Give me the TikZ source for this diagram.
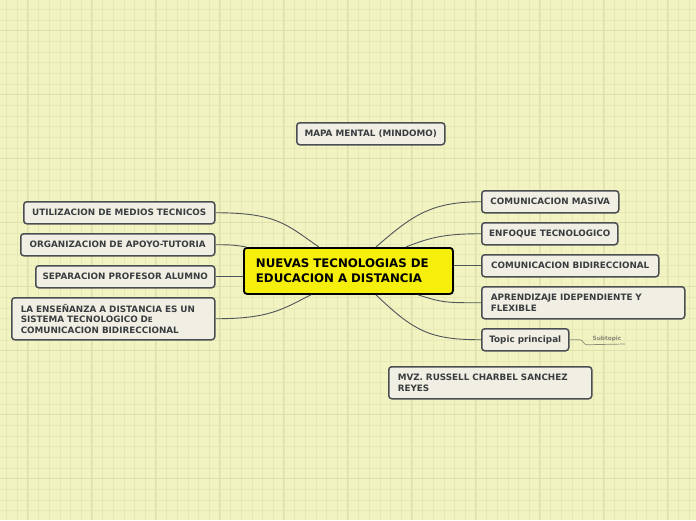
\documentclass[tikz,border=0pt]{standalone}
\usepackage{fontspec}
\setmainfont{DejaVu Sans}
\definecolor{bg}{HTML}{F1F3C1}
\definecolor{gminor}{HTML}{E6E9B5}
\definecolor{gmajor}{HTML}{DEE1AB}
\definecolor{boxfill}{HTML}{F1EFE3}
\definecolor{boxline}{HTML}{4A4E53}
\definecolor{txt}{HTML}{3A3D40}
\definecolor{conncol}{HTML}{50555A}
\definecolor{yel}{HTML}{F6EE0B}
\definecolor{subcol}{HTML}{8A8C78}
\begin{document}
\begin{tikzpicture}[x=1pt,y=-1pt,
  bx/.style={draw=boxline, line width=1.5pt, fill=boxfill, rounded corners=3pt,
    font=\fontsize{8.8}{10.4}\selectfont\bfseries, text=txt, minimum height=22pt,
    inner xsep=0pt, inner ysep=0pt, anchor=north west, align=center},
  bxl/.style={bx, align=left, inner xsep=9pt},
  central/.style={draw=black, line width=1.8pt, fill=yel, rounded corners=3pt,
    font=\fontsize{11.8}{15}\selectfont\bfseries, text=black, anchor=north west,
    minimum width=209pt, minimum height=46pt, text width=185pt, inner xsep=12pt, align=left},
  conn/.style={draw=conncol, line width=0.9pt},
  subl/.style={draw=subcol, line width=0.7pt},
  subt/.style={font=\fontsize{5.8}{6}\selectfont\bfseries, text=subcol, inner sep=0pt}]
% background
\fill[bg] (0,0) rectangle (696,520);
\useasboundingbox (0,0) rectangle (696,520);
\foreach \i in {0,...,65} {
  \draw[gminor, line width=0.8pt] ({6.7+10.667*\i},0) -- ({6.7+10.667*\i},520);
}
\foreach \i in {0,...,48} {
  \draw[gminor, line width=0.8pt] (0,{9.3+10.667*\i}) -- (696,{9.3+10.667*\i});
}
\foreach \i in {0,...,11} {
  \draw[gmajor, line width=0.9pt] ({27.7+64*\i},0) -- ({27.7+64*\i},520);
}
\foreach \i in {0,...,8} {
  \draw[gmajor, line width=0.9pt] (0,{30.7+64*\i}) -- (696,{30.7+64*\i});
}
% nodes
\node[central] (c) at (243,247) {NUEVAS TECNOLOGIAS DE\\EDUCACION A DISTANCIA};
\node[bx, minimum width=148pt] (mm) at (296,122) {MAPA MENTAL (MINDOMO)};
\node[bx, minimum width=191pt] (u) at (23,201) {UTILIZACION DE MEDIOS TECNICOS};
\node[bx, minimum width=194pt] (o) at (20,233) {ORGANIZACION DE APOYO-TUTORIA};
\node[bx, minimum width=179pt] (s) at (35,265) {SEPARACION PROFESOR ALUMNO};
\node[bxl, minimum width=203pt, minimum height=42pt, text width=185pt] (l) at (11,297)
  {LA ENSEÑANZA A DISTANCIA ES UN\\SISTEMA TECNOLOGICO D{\fontsize{7.2}{8}\selectfont E}\\COMUNICACION BIDIRECCIONAL};
\node[bx, minimum width=137pt] (m) at (481,190) {COMUNICACION MASIVA};
\node[bx, minimum width=136pt] (e) at (481,222) {ENFOQUE TECNOLOGICO};
\node[bx, minimum width=177pt] (b) at (481,254) {COMUNICACION BIDIRECCIONAL};
\node[bxl, minimum width=203pt, minimum height=32pt, text width=185pt] (a) at (481,286)
  {APRENDIZAJE IDEPENDIENTE Y\\FLEXIBLE};
\node[bx, minimum width=87pt] (t) at (481,328) {Topic principal};
\node[bxl, minimum width=203pt, minimum height=32pt, text width=185pt] (r) at (388,366)
  {MVZ. RUSSELL CHARBEL SANCHEZ\\REYES};
\node[subt] (st) at (607,339) {Subtopic};
\coordinate (se) at (625,344);
% connectors
\draw[conn] (u.east) .. controls +(62,0) and +(-32,-22) .. ([xshift=-29.5pt]c.north);
\draw[conn] (o.east) .. controls +(16,0) and +(-12,-2) .. ([xshift=-102pt]c.north);
\draw[conn] (s.east) -- (s.east -| c.west);
\draw[conn] (l.east) .. controls +(55,0) and +(-28,14) .. ([xshift=-37.5pt]c.south);
\draw[conn] ([xshift=27.5pt]c.north) .. controls +(35,-30) and +(-52,0) .. (m.west);
\draw[conn] ([xshift=57.5pt]c.north) .. controls +(25,-10) and +(-35,0) .. (e.west);
\draw[conn] (b.west -| c.east) -- (b.west);
\draw[conn] ([xshift=69.5pt]c.south) .. controls +(25,8) and +(-35,0) .. (a.west);
\draw[conn] ([xshift=27.5pt]c.south) .. controls +(38,36) and +(-52,0) .. (t.west);
\draw[subl] (t.east) -- ++(10,0) .. controls +(4,0) and +(-3,0) .. ++(7,5) -- (se);
\end{tikzpicture}
\end{document}
